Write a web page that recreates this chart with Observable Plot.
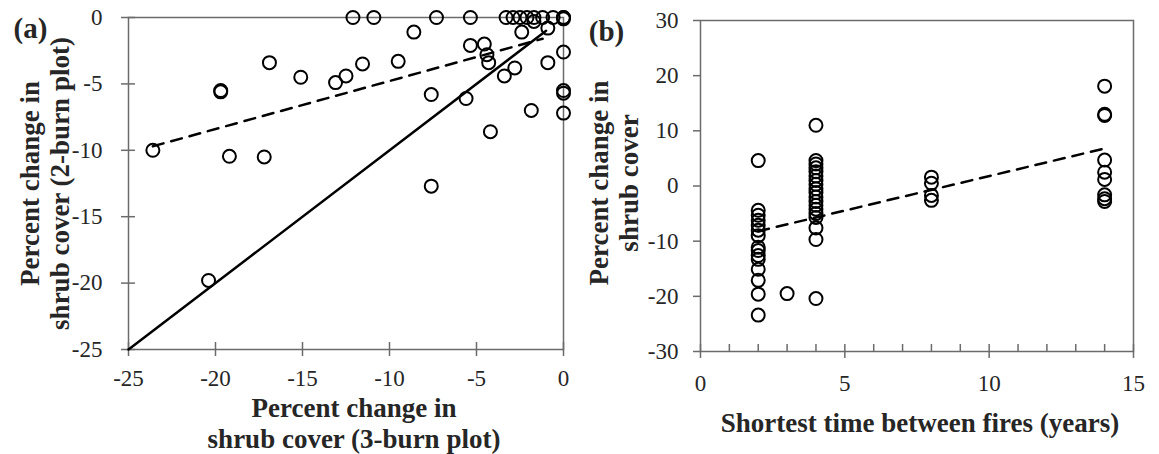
<!DOCTYPE html>
<html>
<head>
<meta charset="utf-8">
<script src="https://cdn.jsdelivr.net/npm/d3@7"></script>
<script src="https://cdn.jsdelivr.net/npm/@observablehq/plot@0.6"></script>
<style>
  body { margin: 0; background: #fff; }
  #wrap { display: flex; width: 1159px; height: 454px; }
  #wrap svg { overflow: visible; }
</style>
</head>
<body>
<div id="wrap"></div>
<script>
// ---------- Panel (a) data ----------
const aBurn3 = [-12.1, -10.9, -7.3, -5.35, -3.3, -2.9, -2.5, -2.1, -1.7, -1.2, -0.6, 0, 0, 0,
  -1.7, -0.9, -2.4, -8.6,
  -5.35, -4.55, -4.4, -4.3, 0, -0.9, -2.8, -3.4,
  0, 0, 0, -1.85, -4.2, -5.6, -7.6, -7.6,
  -9.5, -11.55, -12.5, -13.1, -15.1, -16.9, -19.7, -19.7, -19.2, -17.2, -23.6, -20.4];
const aBurn2 = [0, 0, 0, 0, 0, 0, 0, 0, 0, 0, 0, 0, 0, -0.1,
  -0.3, -0.8, -1.1, -1.1,
  -2.1, -2.0, -2.8, -3.4, -2.6, -3.4, -3.8, -4.4,
  -5.5, -5.7, -7.2, -7.0, -8.6, -6.1, -5.8, -12.7,
  -3.3, -3.5, -4.4, -4.9, -4.5, -3.4, -5.5, -5.6, -10.45, -10.5, -10.0, -19.8];
const aTrendX = [-23.6, -1.2];
const aTrendY = [-9.7, -1.6];
const aIdentity = [-25, -1];
const aTicks = [-25, -20, -15, -10, -5, 0];

// ---------- Panel (b) data ----------
const bYears = [
  2, 2, 2, 2, 2, 2, 2, 2, 2, 2, 2, 2, 2, 2, 2,
  3,
  4, 4, 4, 4, 4, 4, 4, 4, 4, 4, 4, 4, 4, 4, 4, 4, 4, 4, 4,
  8, 8, 8, 8,
  14, 14, 14, 14, 14, 14, 14, 14, 14];
const bChange = [
  4.6, -4.4, -5.3, -6.2, -7.1, -8.0, -9.0, -11.1, -11.7, -12.6, -13.3, -15.1, -17.1, -19.6, -23.4,
  -19.5,
  11.0, 4.6, 4.0, 3.3, 2.6, 1.8, 1.0, 0.3, -0.5, -1.2, -2.0, -2.8, -3.5, -4.2, -5.0, -5.7, -7.6, -9.7, -20.4,
  1.6, 0.5, -1.7, -2.6,
  18.1, 12.8, 13.0, 4.7, 2.5, 1.2, -1.6, -2.3, -2.8];
const bTrendX = [2, 14];
const bTrendY = [-8.2, 6.8];
const bXTicks = [0, 5, 10, 15];
const bXMinor = [1, 2, 3, 4, 6, 7, 8, 9, 11, 12, 13, 14];
const bYTicks = [-30, -20, -10, 0, 10, 20, 30];

const serif = "'Liberation Serif', 'Times New Roman', serif";
const axisColor = "#6b6b6b";
const textColor = "#262626";
const tickFont = 23;
const titleFont = 27;
const fmt = d => String(d);  // plain hyphen-minus like the original

// ---------- Panel (a) ----------
const aPoints = aBurn3.map((x, i) => ({x, y: aBurn2[i]}));
const aTrend = aTrendX.map((x, i) => ({x, y: aTrendY[i]}));
const aLine1 = aIdentity.map(v => ({x: v, y: v}));

const plotA = Plot.plot({
  width: 580, height: 454,
  marginLeft: 128, marginRight: 17, marginTop: 17, marginBottom: 105,
  style: {fontFamily: serif, fontSize: "20px", color: textColor, background: "white", overflow: "visible"},
  x: {domain: [-25, 0]},
  y: {domain: [-25, 0]},
  marks: [
    Plot.frame({stroke: axisColor, strokeWidth: 1.5}),
    Plot.axisX(aTicks, {anchor: "bottom", tickSize: 7, tickPadding: 13, tickFormat: fmt, stroke: axisColor, fill: textColor, strokeWidth: 1.5, label: null, fontSize: tickFont}),
    Plot.axisX(aTicks, {anchor: "bottom", tickSize: -7, tickFormat: () => "", stroke: axisColor, strokeWidth: 1.5, label: null}),
    Plot.axisY(aTicks, {anchor: "left", tickSize: 7, tickPadding: 19, tickFormat: fmt, stroke: axisColor, fill: textColor, strokeWidth: 1.5, label: null, fontSize: tickFont}),
    Plot.axisY(aTicks, {anchor: "left", tickSize: -7, tickFormat: () => "", stroke: axisColor, strokeWidth: 1.5, label: null}),
    Plot.line(aLine1, {x: "x", y: "y", stroke: "black", strokeWidth: 2.5}),
    Plot.line(aTrend, {x: "x", y: "y", stroke: "black", strokeWidth: 2.5, strokeDasharray: "11,8"}),
    Plot.dot(aPoints, {x: "x", y: "y", r: 6.5, stroke: "black", strokeWidth: 2, fill: "none"}),
    Plot.text(["Percent change in\nshrub cover (3-burn plot)"], {frameAnchor: "bottom", textAnchor: "middle", lineAnchor: "middle", dx: 8, dy: 73, fontWeight: "bold", fontSize: titleFont, lineHeight: 1.15, fill: textColor}),
    Plot.text(["Percent change in\nshrub cover (2-burn plot)"], {frameAnchor: "left", textAnchor: "middle", lineAnchor: "middle", dx: -84, dy: 0, rotate: -90, fontWeight: "bold", fontSize: titleFont, lineHeight: 1.11, fill: textColor}),
    Plot.text(["(a)"], {frameAnchor: "top-left", textAnchor: "middle", lineAnchor: "middle", dx: -98, dy: 11, fontWeight: "bold", fontSize: 29, fill: textColor})
  ]
});

// ---------- Panel (b) ----------
const bPoints = bYears.map((x, i) => ({x, y: bChange[i]}));
const bTrend = bTrendX.map((x, i) => ({x, y: bTrendY[i]}));

const plotB = Plot.plot({
  width: 579, height: 454,
  marginLeft: 120, marginRight: 26, marginTop: 20, marginBottom: 103,
  style: {fontFamily: serif, fontSize: "20px", color: textColor, background: "white", overflow: "visible"},
  x: {domain: [0, 15]},
  y: {domain: [-30, 30]},
  marks: [
    Plot.frame({stroke: axisColor, strokeWidth: 1.5}),
    Plot.axisX(bXTicks, {anchor: "bottom", tickSize: 7, tickPadding: 16, tickFormat: fmt, stroke: axisColor, fill: textColor, strokeWidth: 1.5, label: null, fontSize: tickFont}),
    Plot.axisX(bXTicks, {anchor: "bottom", tickSize: -7, tickFormat: () => "", stroke: axisColor, strokeWidth: 1.5, label: null}),
    Plot.axisX(bXMinor, {anchor: "bottom", tickSize: -7, tickFormat: () => "", stroke: axisColor, strokeWidth: 1.5, label: null}),
    Plot.axisY(bYTicks, {anchor: "left", tickSize: 7, tickPadding: 15, tickFormat: fmt, stroke: axisColor, fill: textColor, strokeWidth: 1.5, label: null, fontSize: tickFont}),
    Plot.line(bTrend, {x: "x", y: "y", stroke: "black", strokeWidth: 2.5, strokeDasharray: "11,8"}),
    Plot.dot(bPoints, {x: "x", y: "y", r: 6.5, stroke: "black", strokeWidth: 2, fill: "none"}),
    Plot.text(["Shortest time between fires (years)"], {frameAnchor: "bottom", textAnchor: "middle", lineAnchor: "middle", dx: 3, dy: 72, fontWeight: "bold", fontSize: titleFont, fill: textColor}),
    Plot.text(["Percent change in\nshrub cover"], {frameAnchor: "left", textAnchor: "middle", lineAnchor: "middle", dx: -87, dy: -3, rotate: -90, fontWeight: "bold", fontSize: titleFont, lineHeight: 1.11, fill: textColor}),
    Plot.text(["(b)"], {frameAnchor: "top-left", textAnchor: "middle", lineAnchor: "middle", dx: -94, dy: 11, fontWeight: "bold", fontSize: 29, fill: textColor})
  ]
});

document.getElementById("wrap").append(plotA, plotB);
</script>
</body>
</html>
